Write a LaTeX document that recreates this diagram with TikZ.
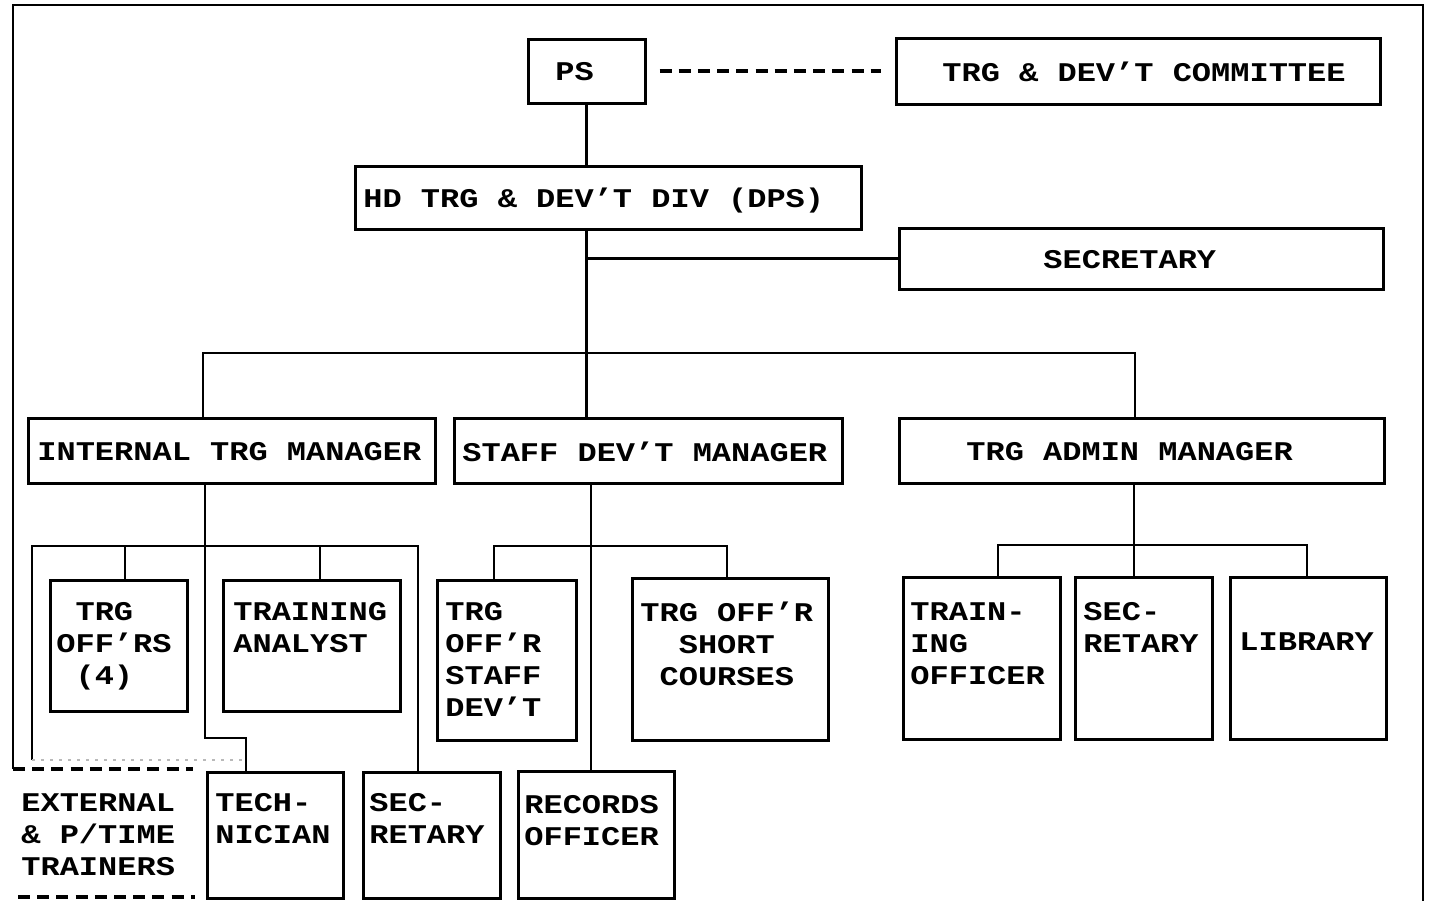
\documentclass[tikz,border=0pt]{standalone}
\usepackage{fontspec}
\newfontfamily\mono[FakeStretch=1.185]{Liberation Mono}
\usetikzlibrary{fit}
\newcommand\lbfont{\mono\bfseries\fontsize{13.5}{16}\selectfont}
\begin{document}
\begin{tikzpicture}[x=0.5pt,y=-0.5pt,
  box/.style={draw, line width=1.5pt, inner sep=0pt},
  ln/.style={line width=1.4pt},
  dsh/.style={line width=2pt, dash pattern=on 6pt off 3.6pt},
  lbl/.style={anchor=north west, inner sep=0pt, align=left, font=\lbfont}]
\useasboundingbox (0,0) rectangle (1429,901);
% outer frame
\coordinate (fa) at (13,769);
\coordinate (fb) at (13,5);
\coordinate (fc) at (1423,5);
\coordinate (fd) at (1423,901);
\draw[ln] (fa) -- (fb) -- (fc) -- (fd);
% boxes
\node[box, fit={(528,39) (645,103)}] (ps) {};
\node[box, fit={(896,38) (1380,104)}] (com) {};
\node[box, fit={(355,166) (861,229)}] (hd) {};
\node[box, fit={(899,228) (1383,289)}] (sec) {};
\node[box, fit={(28,418) (435,483)}] (itm) {};
\node[box, fit={(454,418) (842,483)}] (sdm) {};
\node[box, fit={(899,418) (1384,483)}] (tam) {};
\node[box, fit={(50,580) (187,711)}] (tos) {};
\node[box, fit={(223,580) (400,711)}] (ta) {};
\node[box, fit={(437,580) (576,740)}] (tosd) {};
\node[box, fit={(632,578) (828,740)}] (tosc) {};
\node[box, fit={(903,577) (1060,739)}] (to) {};
\node[box, fit={(1075,577) (1212,739)}] (sec3) {};
\node[box, fit={(1230,577) (1386,739)}] (lib) {};
\node[box, fit={(207,772) (343,898)}] (tech) {};
\node[box, fit={(363,772) (500,898)}] (sec2) {};
\node[box, fit={(518,771) (674,898)}] (rec) {};
% texts
\node[lbl] (ps-t) at (555,62) {PS};
\node[lbl] (com-t) at (942,62) {TRG \& DEV’T COMMITTEE};
\node[lbl] (hd-t) at (363,188) {HD TRG \& DEV’T DIV (DPS)};
\node[lbl] (sec-t) at (1043,250) {SECRETARY};
\node[lbl] (itm-t) at (37,442) {INTERNAL TRG MANAGER};
\node[lbl] (sdm-t) at (462,442) {STAFF DEV’T MANAGER};
\node[lbl] (tam-t) at (966,442) {TRG ADMIN MANAGER};
\node[lbl] (tos-t) at (56,602) {\phantom{X}TRG\\OFF’RS\\\phantom{X}(4)};
\node[lbl] (ta-t) at (233,602) {TRAINING\\ANALYST};
\node[lbl] (tosd-t) at (445,602) {TRG\\OFF’R\\STAFF\\DEV’T};
\node[lbl] (tosc-t) at (640,602) {TRG OFF’R\\\phantom{XX}SHORT\\\phantom{X}COURSES};
\node[lbl] (to-t) at (910,602) {TRAIN-\\ING\\OFFICER};
\node[lbl] (sec3-t) at (1083,602) {SEC-\\RETARY};
\node[lbl] (lib-t) at (1239,632) {LIBRARY};
\node[lbl] (ext-t) at (21,793) {EXTERNAL\\\& P/TIME\\TRAINERS};
\node[lbl] (tech-t) at (215,793) {TECH-\\NICIAN};
\node[lbl] (sec2-t) at (369,793) {SEC-\\RETARY};
\node[lbl] (rec-t) at (524,795) {RECORDS\\OFFICER};
% top connectors
\draw[ln] (ps.south) -- (ps.south |- hd.north);
\draw[dsh] ([xshift=6.5pt]ps.east) -- ([xshift=-7pt]com.west);
\draw[ln] (ps.south |- hd.south) -- (ps.south |- sdm.north);
\draw[ln] (ps.south |- sec.west) -- (sec.west);
% bus
\coordinate (bl) at (203,353);
\coordinate (br) at (1135,353);
\draw[ln] (bl |- itm.north) -- (bl) -- (br) -- (br |- tam.north);
% internal training manager subtree
\coordinate (iv) at (205,738);
\coordinate (ih) at (246,738);
\draw[ln] (iv |- itm.south) -- (iv) -- (ih) -- (ih |- tech.north);
\coordinate (bk0) at (32,760);
\coordinate (bk1) at (32,546);
\coordinate (bk2) at (418,546);
\draw[ln] (bk0) -- (bk1) -- (bk2) -- (bk2 |- sec2.north);
\coordinate (s1) at (125,546);
\coordinate (s2) at (320,546);
\draw[ln] (s1) -- (s1 |- tos.north);
\draw[ln] (s2) -- (s2 |- ta.north);
\draw[gray!55, line width=1pt, dash pattern=on 1.5pt off 3pt] (bk0) -- (ih |- bk0);
% external trainers
\coordinate (e1) at (193,769);
\coordinate (e2) at (18,897);
\coordinate (e3) at (195,897);
\draw[dsh] (fa) -- (e1);
\draw[dsh] (e2) -- (e3);
% staff dev't manager subtree
\coordinate (sv) at (591,500);
\draw[ln] (sv |- sdm.south) -- (sv |- rec.north);
\coordinate (sb1) at (494,546);
\coordinate (sb2) at (727,546);
\draw[ln] (sb1 |- tosd.north) -- (sb1) -- (sb2) -- (sb2 |- tosc.north);
% trg admin manager subtree
\coordinate (av) at (1134,545);
\draw[ln] (av |- tam.south) -- (av |- sec3.north);
\coordinate (ab1) at (998,545);
\coordinate (ab2) at (1307,545);
\draw[ln] (ab1 |- to.north) -- (ab1) -- (ab2) -- (ab2 |- lib.north);
\end{tikzpicture}
\end{document}
